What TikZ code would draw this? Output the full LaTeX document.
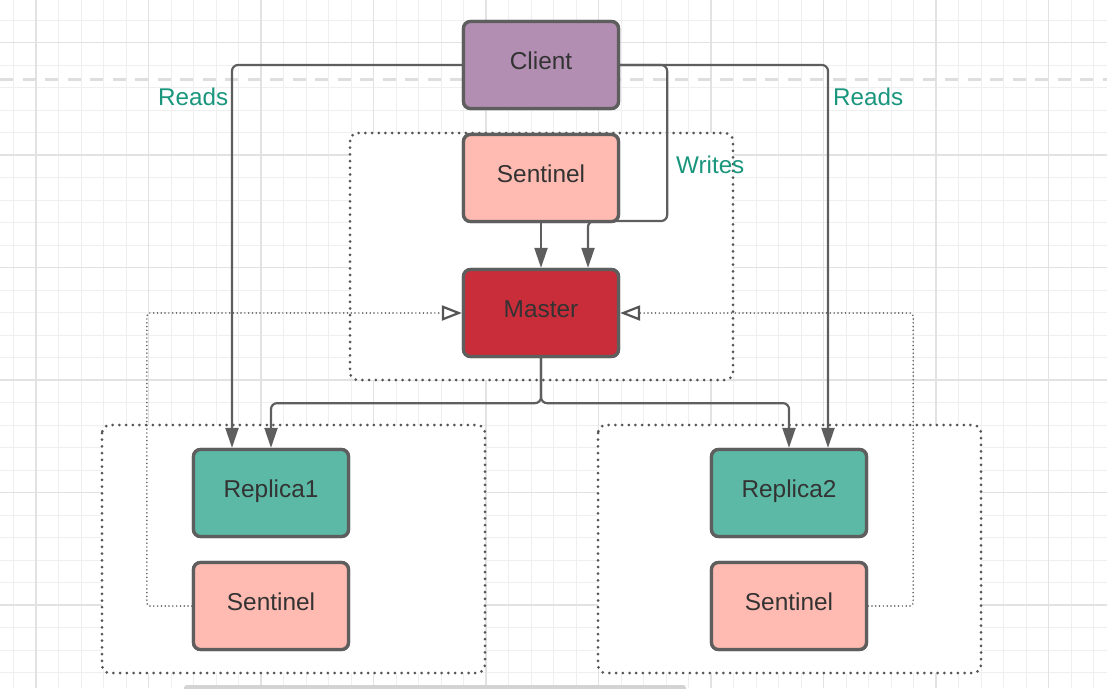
\documentclass[tikz,border=0pt]{standalone}
\usepackage{fontspec}
\setmainfont{Liberation Sans}
\usetikzlibrary{arrows.meta}
\definecolor{gridminor}{HTML}{EFEFEF}
\definecolor{gridmajor}{HTML}{E2E2E2}
\definecolor{dashc}{HTML}{DEDEDE}
\definecolor{bordc}{HTML}{5E5E5E}
\definecolor{dotc}{HTML}{555555}
\definecolor{txtc}{HTML}{333333}
\definecolor{clientc}{HTML}{B28FB2}
\definecolor{sentc}{HTML}{FFBBB1}
\definecolor{masterc}{HTML}{C92D39}
\definecolor{replc}{HTML}{5BB9A5}
\definecolor{lblc}{HTML}{19967D}
\definecolor{barc}{HTML}{D3D3D3}
\begin{document}
\begin{tikzpicture}[x=1pt,y=-1pt,
  box/.style={draw=bordc, line width=3.3pt, rounded corners=7pt,
    minimum width=155pt, minimum height=87pt, inner sep=0pt,
    text height=17pt, text depth=8pt,
    text=txtc, font=\fontsize{24.4}{28}\selectfont},
  lbl/.style={text=lblc, inner sep=0pt, font=\fontsize{24.2}{28}\selectfont},
  container/.style={draw=dotc, fill=white, line width=3pt,
    dash pattern=on 0pt off 6.7pt, line cap=round, rounded corners=8pt},
  conn/.style={draw=bordc, line width=2.2pt, rounded corners=6pt,
    -{Triangle[length=20pt,width=13pt]}},
  dotconn/.style={draw=dotc, line width=1.7pt, dash pattern=on 0pt off 3.8pt,
    line cap=round, rounded corners=3pt,
    -{Triangle[open, length=20pt, width=15pt, line width=2.2pt, fill=white]}}
]
\useasboundingbox (0,0) rectangle (1107,688);
\fill[white] (0,0) rectangle (1107,688);
% grid
\foreach \k in {0,...,48} \draw[gridminor, line width=1pt] ({13.5+22.5*\k},0) -- ({13.5+22.5*\k},688);
\foreach \k in {0,...,29} \draw[gridminor, line width=1pt] (0,{20+22.5*\k}) -- (1107,{20+22.5*\k});
\foreach \k in {0,...,9} \draw[gridmajor, line width=1.6pt] ({36+112.5*\k},0) -- ({36+112.5*\k},688);
\foreach \k in {0,...,5} \draw[gridmajor, line width=1.6pt] (0,{42.5+112.5*\k}) -- (1107,{42.5+112.5*\k});
% dashed guide
\draw[dashc, line width=3pt, dash pattern=on 13pt off 9.5pt] (0,79) -- (1107,79);
% scrollbar
\fill[barc, rounded corners=3pt] (184,685) rectangle (686,694);
% containers
\draw[container] (350,133) rectangle (733,380);
\draw[container] (102,425) rectangle (485,673);
\draw[container] (598,425) rectangle (981,673);
% nodes (placed first for anchors, redrawn on top later)
\path (541,65) node[box, fill=clientc] (client) {Client};
\path (541,178) node[box, fill=sentc] (sentm) {Sentinel};
\path (541,313) node[box, fill=masterc] (master) {Master};
\path (271,493) node[box, fill=replc] (rep1) {Replica1};
\path (271,606) node[box, fill=sentc] (sent1) {Sentinel};
\path (789,493) node[box, fill=replc] (rep2) {Replica2};
\path (789,606) node[box, fill=sentc] (sent2) {Sentinel};
% connectors
\draw[conn] (client.west) -| ([xshift=-39pt]rep1.north);
\draw[conn] (client.east) -| ([xshift=39pt]rep2.north);
\draw[conn] (client.east) -- ++(47,0) -- ++(0,156) -| ([xshift=47pt]master.north);
\draw[conn] (sentm.south) -- (master.north);
\draw[conn] (master.south) -- ++(0,45) -| (rep1.north);
\draw[conn] (master.south) -- ++(0,45) -| (rep2.north);
\draw[dotconn] (sent1.west) -- ++(-45,0) |- (master.west);
\draw[dotconn] (sent2.east) -- ++(45,0) |- (master.east);
% redraw boxes on top of connectors
\path (541,65) node[box, fill=clientc] {Client};
\path (541,178) node[box, fill=sentc] {Sentinel};
\path (541,313) node[box, fill=masterc] {Master};
\path (271,493) node[box, fill=replc] {Replica1};
\path (271,606) node[box, fill=sentc] {Sentinel};
\path (789,493) node[box, fill=replc] {Replica2};
\path (789,606) node[box, fill=sentc] {Sentinel};
% labels
\node[lbl, anchor=base west] (readsl) at (158,105) {Reads};
\node[lbl, anchor=base west] (readsr) at (833,105) {Reads};
\node[lbl, anchor=base west] (writes) at (676,173) {Writes};
\end{tikzpicture}
\end{document}
